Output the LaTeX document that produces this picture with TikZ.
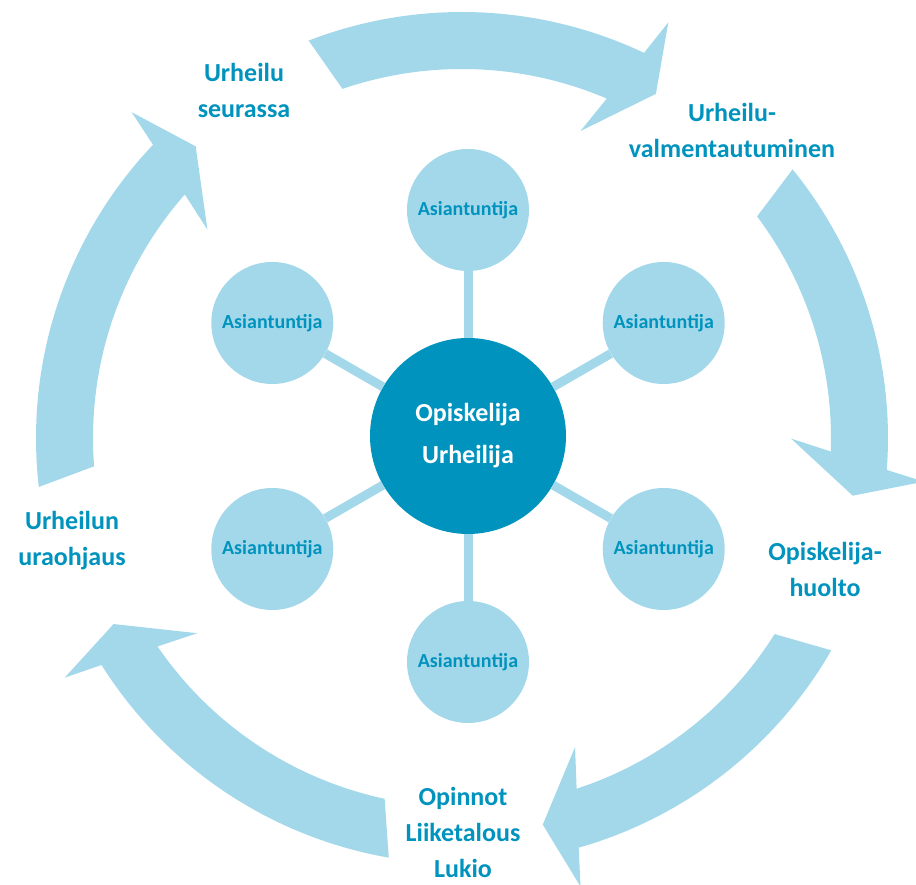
\documentclass[tikz,border=0pt]{standalone}
\usepackage{fontspec}
\setmainfont{Carlito}
\usepackage{tikz}
\usetikzlibrary{positioning}
\definecolor{paleblue}{HTML}{A3D8EB}
\definecolor{deepblue}{HTML}{0093BD}
\tikzstyle{hub}=[circle,fill=deepblue,minimum size=196pt,inner sep=0pt,text=white,align=center,font=\bfseries\fontsize{26}{42}\selectfont]
\tikzstyle{expert}=[circle,fill=paleblue,minimum size=122pt,inner sep=0pt,text=deepblue,font=\bfseries\fontsize{20}{24}\selectfont]
\tikzstyle{phase}=[text=deepblue,align=center,font=\bfseries\fontsize{26}{36}\selectfont]
\tikzset{spoke/.style={paleblue,line width=9pt}}

\begin{document}
\begin{tikzpicture}[x=1pt,y=1pt]
  \useasboundingbox (0,0) rectangle (916,885);

  \def\rout{426pt};
  \def\rin{369pt};

  % cycle arrows
  \begin{scope}[shift={(462,447)}]
    \foreach \tail/\tip in {110/60.6, 38/-8.4, -31/-78.2, -101/-151.9, 185.5/132.4}
      \fill[paleblue] ({\tail+1.1}:\rout) arc[start angle=\tail+1.1, end angle=\tip+4.1, radius=\rout]
        -- ({\tip+3}:464) -- (\tip:395) -- ({\tip+8.3}:329) -- ({\tip+6.3}:\rin)
        arc[start angle=\tip+6.3, end angle=\tail-1.1, radius=\rin] -- cycle;
  \end{scope}

  \node[hub] (athlete) at (468,449) {Opiskelija\\Urheilija};

  \foreach \ang/\name in {90/e1, 30/e2, -30/e3, -90/e4, -150/e5, 150/e6}
  {
    \node[expert] (\name) at ([shift={(\ang:226)}]athlete.center) {Asiantuntija};
    \draw[spoke] (athlete) -- (\name);
  }

  \node[phase] (club) at (244,794.5) {Urheilu\\seurassa};
  \node[phase] (coach) at (732,755) {Urheilu-\\valmentautuminen};
  \node[phase] (care) at (825,315.5) {Opiskelija-\\huolto};
  \node[phase] (study) at (463,52.5) {Opinnot\\Liiketalous\\Lukio};
  \node[phase] (career) at (72,344) {Urheilun\\uraohjaus};

\end{tikzpicture}
\end{document}
